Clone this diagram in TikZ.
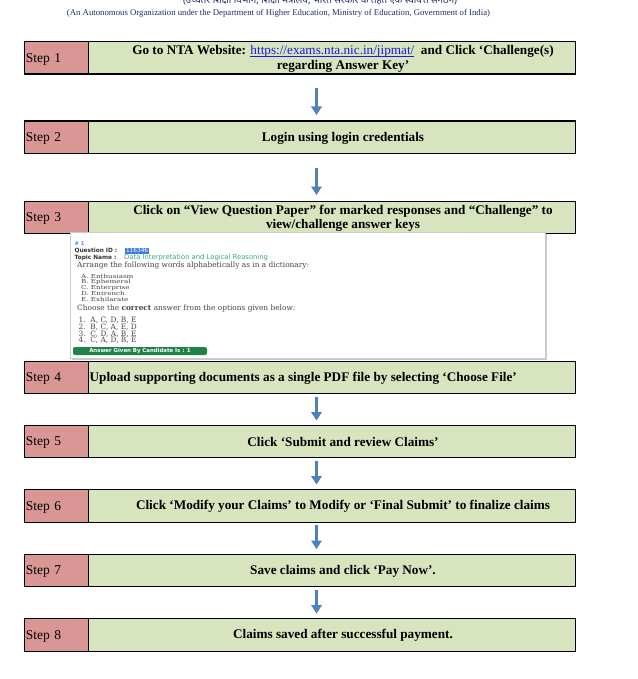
\documentclass[tikz,border=0pt]{standalone}
\usepackage{fontspec}
\setmainfont{Liberation Serif}
\newfontfamily\devfont[Script=Devanagari]{Noto Sans}
\newfontfamily\uisans{DejaVu Sans}
\newfontfamily\uiserif{DejaVu Serif}
\usetikzlibrary{arrows.meta,shadows}
\newsavebox\myulbox
\newcommand\myuline[1]{\sbox\myulbox{#1}\rlap{\usebox\myulbox}\rule[-1.8pt]{\wd\myulbox}{0.6pt}}
\newcommand\widewords[1]{\scalebox{1.3}[1]{#1}}
\definecolor{stepred}{HTML}{D99694}
\definecolor{stepgreen}{HTML}{D7E4BD}
\definecolor{arrowblue}{HTML}{4F81BD}
\definecolor{headnavy}{HTML}{1F2D6B}
\definecolor{linkblue}{HTML}{1A1AE6}
\definecolor{uiblue}{HTML}{4A86E8}
\definecolor{uihl}{HTML}{3E7CDB}
\definecolor{uiteal}{HTML}{3DA58A}
\definecolor{uitext}{HTML}{444444}
\definecolor{uidark}{HTML}{333333}
\definecolor{badgegreen}{HTML}{1E8449}
\tikzset{
  redcell/.style={draw=black, line width=1.2pt, fill=stepred, anchor=north west,
    minimum width=64.5pt, minimum height=32.5pt, text width=61pt, inner xsep=1.5pt,
    text depth=0pt, align=left, font=\fontsize{13.5}{15}\selectfont},
  greencell/.style={draw=black, line width=1.2pt, fill=stepgreen, anchor=north west,
    minimum width=487pt, minimum height=32.5pt, inner sep=0pt},
  steptext/.style={font=\bfseries\fontsize{13.2}{14.5}\selectfont, align=center, inner sep=0pt, yshift=-1.5pt},
  flow/.style={draw=arrowblue, line width=3.6pt, -{Triangle[width=10.5pt,length=8.5pt]}},
  shotframe/.style={draw=gray!40, line width=0.5pt, fill=white, anchor=north west,
    minimum width=475pt, minimum height=126pt, inner sep=0pt,
    drop shadow={shadow xshift=2pt, shadow yshift=-2pt, fill=gray!70, opacity=0.6}},
  uisanstext/.style={anchor=west, inner sep=0pt, font=\uisans\fontsize{5.8}{6}\selectfont, text=uidark},
  uiseriftext/.style={anchor=west, inner sep=0pt, font=\uiserif\fontsize{7.4}{8}\selectfont, text=uitext},
  uiwordtext/.style={anchor=west, inner sep=0pt, font=\uiserif\fontsize{5.5}{6}\selectfont, text=uitext},
  badge/.style={fill=badgegreen, rounded corners=2pt, minimum width=134pt, minimum height=8pt,
    inner sep=0pt, text=white, font=\uisans\bfseries\fontsize{5.4}{6}\selectfont},
}
\begin{document}
\begin{tikzpicture}[x=1pt,y=1pt]
\useasboundingbox (0,0) rectangle (637,-679);
\fill[white] (0,0) rectangle (637,-679);

% header lines
\node[anchor=base, inner sep=0pt, text=headnavy] (hindi) at (320,-3.5)
  {\resizebox{274pt}{!}{\devfont (उच्चतर शिक्षा विभाग, शिक्षा मंत्रालय, भारत सरकार के तहत एक स्वायत्त संगठन)}};
\node[anchor=base, inner sep=0pt, text=headnavy, font=\fontsize{8.75}{10}\selectfont] (english) at (278.5,-15.5)
  {(An Autonomous Organization under the Department of Higher Education, Ministry of Education, Government of India)};

% step boxes
\foreach \i/\yy in {1/41, 2/120.5, 3/200.5, 4/360.5, 5/424.5, 6/489, 7/553.5, 8/618} {
  \node[greencell] (g\i) at (88,-\yy) {};
  \node[redcell] (r\i) at (23.5,-\yy) {Step \i};
}

% step texts
\node[steptext] (t1) at (343,-57.25) {Go to NTA Website: \textcolor{linkblue}{\mdseries\myuline{https://exams.nta.nic.in/jipmat/}}\ \ and Click ‘Challenge(s)\\regarding Answer Key’};
\node[steptext] (t2) at (343,-136.75) {Login using login credentials};
\node[steptext] (t3) at (343,-216.75) {Click on “View Question Paper” for marked responses and “Challenge” to\\view/challenge answer keys};
\node[steptext, anchor=west] (t4) at (89.5,-376.75) {Upload supporting documents as a single PDF file by selecting ‘Choose File’};
\node[steptext] (t5) at (343,-440.75) {Click ‘Submit and review Claims’};
\node[steptext] (t6) at (343,-505.25) {Click ‘Modify your Claims’ to Modify or ‘Final Submit’ to finalize claims};
\node[steptext] (t7) at (343,-569.75) {Save claims and click ‘Pay Now’.};
\node[steptext] (t8) at (343,-634.25) {Claims saved after successful payment.};

% arrows
\draw[flow] ([xshift=228.5pt,yshift=-13.5pt]g1.south west) -- ([xshift=228.5pt,yshift=5.5pt]g2.north west);
\draw[flow] ([xshift=228.5pt,yshift=-13.5pt]g2.south west) -- ([xshift=228.5pt,yshift=5.5pt]g3.north west);
\draw[flow] ([xshift=228.5pt,yshift=-2.5pt]g4.south west) -- ([xshift=228.5pt,yshift=4pt]g5.north west);
\draw[flow] ([xshift=228.5pt,yshift=-2.5pt]g5.south west) -- ([xshift=228.5pt,yshift=4.5pt]g6.north west);
\draw[flow] ([xshift=228.5pt,yshift=-2.5pt]g6.south west) -- ([xshift=228.5pt,yshift=4.5pt]g7.north west);
\draw[flow] ([xshift=228.5pt,yshift=-2.5pt]g7.south west) -- ([xshift=228.5pt,yshift=4.5pt]g8.north west);

% screenshot of a question
\node[shotframe] (shot) at (70,-232) {};
\node[uisanstext, text=uiblue, font=\uisans\bfseries\fontsize{5.2}{6}\selectfont] (hash) at (74.4,-243.3) {\# 1};
\node[uisanstext, font=\uisans\bfseries\fontsize{5.8}{6}\selectfont] (qid) at (74.4,-250.7) {Question ID :};
\node[uisanstext, fill=uihl, text=white, inner xsep=1pt, inner ysep=0.8pt] (qnum) at (124.8,-250.7) {116346};
\node[uisanstext, font=\uisans\bfseries\fontsize{5.8}{6}\selectfont] (topic) at (74.4,-257.7) {Topic Name :};
\node[uisanstext, text=uiteal, font=\uisans\fontsize{6.8}{7}\selectfont] (topicname) at (124,-257.7) {Data Interpretation and Logical Reasoning};
\node[uiseriftext] (arrange) at (77,-265.9) {Arrange the following words alphabetically as in a dictionary:};
\node[uiwordtext] (wa) at (81,-276.7) {\widewords{A. Enthusiasm}};
\node[uiwordtext] (wb) at (81,-282.4) {\widewords{B. Ephemeral}};
\node[uiwordtext] (wc) at (81,-288.1) {\widewords{C. Enterprise}};
\node[uiwordtext] (wd) at (81,-293.8) {\widewords{D. Entrench}};
\node[uiwordtext] (we) at (81,-299.5) {\widewords{E. Exhilarate}};
\node[uiseriftext] (choose) at (77,-308.5) {Choose the \textbf{correct} answer from the options given below:};
\node[uiseriftext] (o1) at (78.5,-320) {1.\ \ A, C, D, B, E};
\node[uiseriftext] (o2) at (78.5,-326.9) {2.\ \ B, C, A, E, D};
\node[uiseriftext] (o3) at (78.5,-333.8) {3.\ \ C, D, A, B, E};
\node[uiseriftext] (o4) at (78.5,-340.7) {4.\ \ C, A, D, B, E};
\node[badge] (answer) at (140,-351) {Answer Given By Candidate Is : 1};
\end{tikzpicture}
\end{document}
